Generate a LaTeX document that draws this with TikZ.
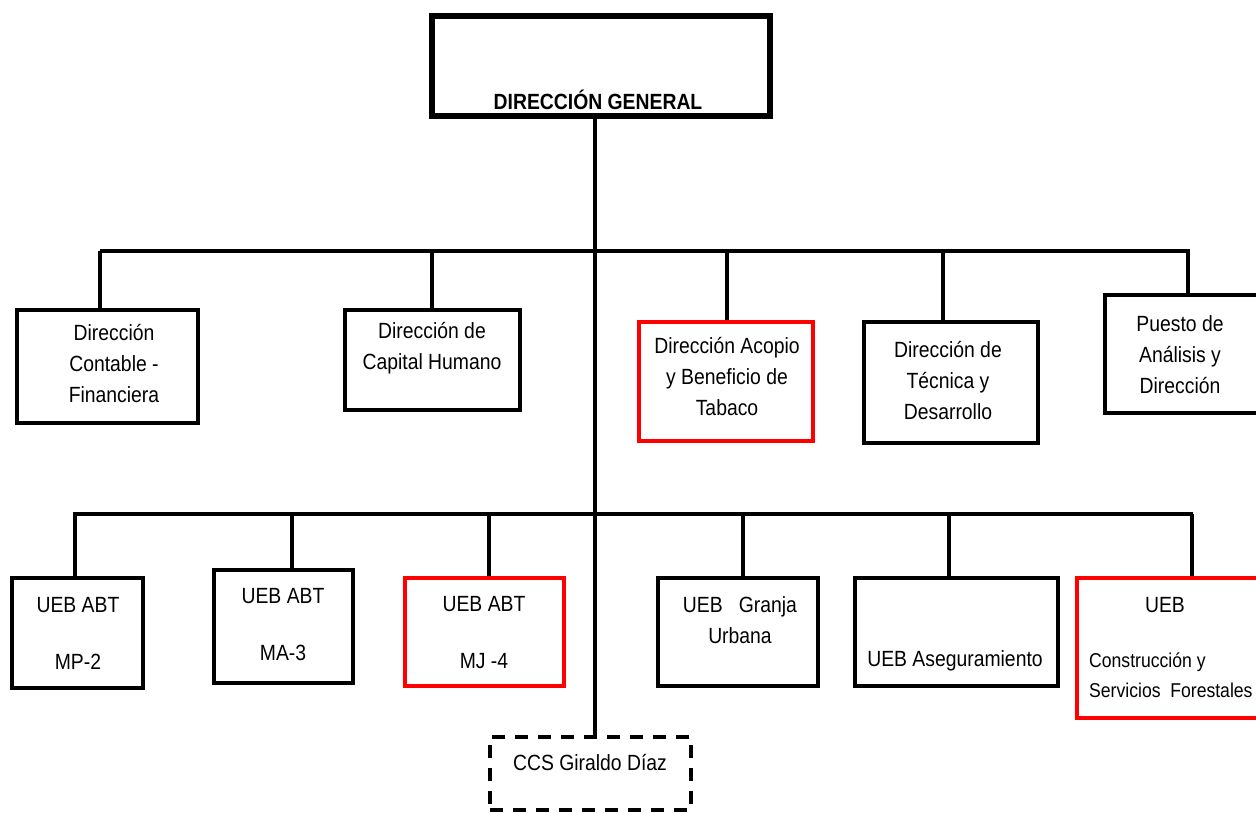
\documentclass[tikz,border=0pt]{standalone}
\usepackage{fontspec}
\setmainfont[FakeStretch=0.88]{Liberation Sans}
\begin{document}
\begin{tikzpicture}[x=1pt,y=-1pt,
  box/.style={draw=black, line width=4.5pt, inner sep=0pt, rectangle},
  redbox/.style={draw=red, line width=3.5pt, inner sep=0pt, rectangle},
  dashbox/.style={draw=black, line width=4pt, inner sep=0pt, rectangle, dash pattern=on 13pt off 10pt},
  txt/.style={inner sep=0pt, align=center, font=\fontsize{22}{31}\selectfont},
  conn/.style={draw=black, line width=3.5pt}]
\useasboundingbox (0,0) rectangle (1256,813);
% boxes
\node[box, line width=6pt, minimum width=338pt, minimum height=100pt] (top) at (601,66) {};
\node[box, minimum width=181pt, minimum height=113pt] (cont) at (107.5,366.5) {};
\node[box, minimum width=175pt, minimum height=100pt] (cap) at (432.5,360) {};
\node[redbox, minimum width=174pt, minimum height=119pt] (acop) at (726,381.5) {};
\node[box, minimum width=174pt, minimum height=121pt] (tec) at (951,382.5) {};
\node[box, minimum width=157pt, minimum height=118pt] (pue) at (1183.5,354) {};
\node[box, minimum width=131pt, minimum height=110pt] (mp) at (77.5,633) {};
\node[box, minimum width=139pt, minimum height=113pt] (ma) at (283.5,626.5) {};
\node[redbox, minimum width=159pt, minimum height=108pt] (mj) at (484.5,632) {};
\node[box, minimum width=160pt, minimum height=108pt] (gra) at (738,632) {};
\node[box, minimum width=203pt, minimum height=108pt] (ase) at (956.5,632) {};
\node[redbox, minimum width=185pt, minimum height=140pt] (con) at (1169.5,648) {};
\node[dashbox, minimum width=201pt, minimum height=73pt] (ccs) at (590.5,773.5) {};
% texts
\node[txt, font=\fontsize{22}{31}\selectfont\bfseries] (ttop) at (598,100) {DIRECCIÓN GENERAL};
\node[txt] (tcont) at (114,364) {Dirección\\Contable -\\Financiera};
\node[txt] (tcap) at (432,348) {Dirección de\\Capital Humano};
\node[txt] (tacop) at (727,377) {Dirección Acopio\\y Beneficio de\\Tabaco};
\node[txt] (ttec) at (948,381) {Dirección de\\Técnica y\\Desarrollo};
\node[txt] (tpue) at (1180,355) {Puesto de\\Análisis y\\Dirección};
\node[txt] (tmp) at (78,633) {UEB ABT\\[26pt]MP-2};
\node[txt] (tma) at (283,625) {UEB ABT\\[26pt]MA-3};
\node[txt] (tmj) at (484,633) {UEB ABT\\[26pt]MJ -4};
\node[txt] (tgra) at (740,620) {UEB\ \ \ Granja\\Urbana};
\node[txt] (tase) at (955,661) {UEB Aseguramiento};
\node[txt] (tconu) at (1165,605) {UEB};
\node[txt, align=left, anchor=west, font=\fontsize{20}{30}\selectfont] (tcon) at (1089,675) {Construcción y\\Servicios\ \ Forestales};
\node[txt] (tccs) at (590,763) {CCS Giraldo Díaz};
% connectors
\coordinate (trunk) at (595,0);
\coordinate (b1L) at (100,251);
\coordinate (b1R) at (1190,251);
\coordinate (b2L) at (73,514);
\coordinate (b2R) at (1193,514);
\draw[conn] (top.south -| trunk) -- (ccs.north -| trunk);
\draw[conn] (b1L) -- (b1R);
\draw[conn] (b2L) -- (b2R);
\coordinate (d1) at (100,251);
\coordinate (d2) at (432,251);
\coordinate (d3) at (727,251);
\coordinate (d4) at (943,251);
\coordinate (d5) at (1188,251);
\draw[conn] (d1) -- (d1 |- cont.north);
\draw[conn] (d2) -- (d2 |- cap.north);
\draw[conn] (d3) -- (d3 |- acop.north);
\draw[conn] (d4) -- (d4 |- tec.north);
\draw[conn] (d5) -- (d5 |- pue.north);
\coordinate (e1) at (75,514);
\coordinate (e2) at (292,514);
\coordinate (e3) at (489,514);
\coordinate (e4) at (743,514);
\coordinate (e5) at (949,514);
\coordinate (e6) at (1192,514);
\draw[conn] (e1) -- (e1 |- mp.north);
\draw[conn] (e2) -- (e2 |- ma.north);
\draw[conn] (e3) -- (e3 |- mj.north);
\draw[conn] (e4) -- (e4 |- gra.north);
\draw[conn] (e5) -- (e5 |- ase.north);
\draw[conn] (e6) -- (e6 |- con.north);
\end{tikzpicture}
\end{document}
